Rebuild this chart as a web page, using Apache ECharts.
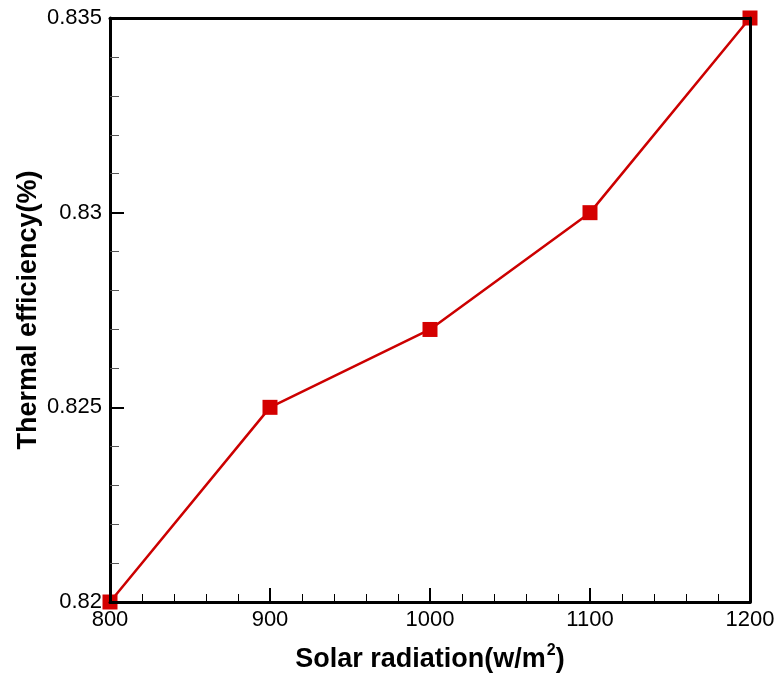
<!DOCTYPE html>
<html><head><meta charset="utf-8">
<script src="https://cdn.jsdelivr.net/npm/echarts@6/dist/echarts.min.js"></script>
<style>html,body{margin:0;padding:0;background:#fff;overflow:hidden}#c{width:779px;height:673px}</style>
</head><body><div id="c"></div>
<script>
const radiation = [800, 900, 1000, 1100, 1200];
const efficiency = [0.82, 0.825, 0.827, 0.83, 0.835];
const yTicks = [0.82, 0.825, 0.83, 0.835];
const xTitle = 'Solar radiation(w/m';
const yTitle = 'Thermal efficiency(%)';

const font = 'Liberation Sans';
const chart = echarts.init(document.getElementById('c'));
const baseLine = {show: true, onZero: false, lineStyle: {color: '#000', width: 3}};
chart.setOption({
  animation: false,
  backgroundColor: '#fff',
  grid: {left: 110, right: 29, top: 18, bottom: 71, containLabel: false, outerBoundsMode: 'none'},
  xAxis: [{
    type: 'value', min: 800, max: 1200, interval: 100, position: 'bottom', z: 10,
    axisLine: baseLine,
    axisTick: {show: true, inside: true, length: 14, lineStyle: {color: '#000', width: 2}},
    minorTick: {show: true, splitNumber: 5, length: 8, lineStyle: {color: '#000', width: 1}},
    splitLine: {show: false},
    axisLabel: {color: '#000', fontFamily: font, fontSize: 22, margin: 7, formatter: v => String(v)},
    name: '{a|' + xTitle + '}{s|2}{a|)}', nameLocation: 'middle', nameGap: 41, nameMoveOverlap: false,
    nameTextStyle: {rich: {
      a: {fontFamily: font, fontSize: 27, fontWeight: 'bold', color: '#000', verticalAlign: 'bottom', lineHeight: 30},
      s: {fontFamily: font, fontSize: 16, fontWeight: 'bold', color: '#000', verticalAlign: 'top', lineHeight: 30, padding: [0,0,14,1]}
    }}
  }, {
    type: 'value', min: 800, max: 1200, position: 'top', z: 10,
    axisLine: baseLine, axisTick: {show: false}, axisLabel: {show: false}, splitLine: {show: false}
  }],
  yAxis: [{
    type: 'value', min: 0.82, max: 0.835, interval: 0.005, position: 'left', z: 10,
    axisLine: baseLine,
    axisTick: {show: true, inside: true, length: 14, lineStyle: {color: '#000', width: 2}},
    minorTick: {show: true, splitNumber: 5, length: 9, lineStyle: {color: '#555', width: 1}},
    splitLine: {show: false},
    axisLabel: {color: '#000', fontFamily: font, fontSize: 22, margin: 8,
      formatter: v => { const t = yTicks.find(k => Math.abs(k - v) < 1e-9); return t === undefined ? '' : String(t); }},
    name: yTitle, nameLocation: 'middle', nameGap: 68, nameMoveOverlap: false,
    nameTextStyle: {fontFamily: font, fontSize: 27, fontWeight: 'bold', color: '#000'}
  }, {
    type: 'value', min: 0.82, max: 0.835, position: 'right', z: 10,
    axisLine: baseLine, axisTick: {show: false}, axisLabel: {show: false}, splitLine: {show: false}
  }],
  series: [{
    type: 'line', xAxisIndex: 0, yAxisIndex: 0, z: 1,
    data: radiation.map((x, i) => [x, efficiency[i]]),
    symbol: 'rect', symbolSize: 15, clip: false,
    lineStyle: {color: '#cc0000', width: 2.5},
    itemStyle: {color: '#d40000'}
  }]
});
</script></body></html>
